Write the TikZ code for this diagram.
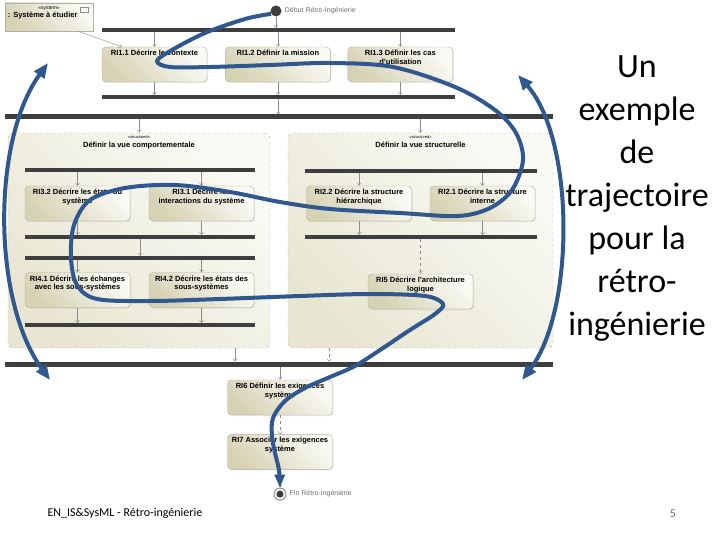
\documentclass[tikz,border=0pt]{standalone}
\usepackage{fontspec}
\setmainfont{Liberation Sans}
\newfontfamily\slidefont{Carlito}
\usetikzlibrary{arrows.meta,positioning,shadows}
\definecolor{boxLine}{RGB}{178,176,158}
\definecolor{boxDark}{RGB}{214,210,180}
\definecolor{boxLight}{RGB}{250,250,244}
\definecolor{zoneDark}{RGB}{232,230,210}
\definecolor{zoneLight}{RGB}{250,250,245}
\definecolor{barGrey}{RGB}{62,62,62}
\definecolor{tickGrey}{RGB}{140,140,140}
\definecolor{trajBlue}{RGB}{48,88,142}
\definecolor{labelGrey}{RGB}{110,110,110}
\newcommand{\boxtext}[1]{\parbox[c][29pt][t]{99pt}{\centering #1}}
\newcommand{\zonetext}[2]{\parbox[c][209pt][t]{#1}{\centering{\fontsize{4}{5}\selectfont\mdseries «structured»}\\ #2}}
\tikzset{
  boite/.style={draw=boxLine, rounded corners=4pt, top color=boxLight, bottom color=boxDark, shading angle=-45, inner sep=3pt, font=\fontsize{7.5}{8.6}\selectfont\bfseries, drop shadow={opacity=0.18, shadow xshift=1pt, shadow yshift=-1pt}},
  zone/.style={draw=boxLine, dashed, rounded corners=5pt, top color=zoneLight, bottom color=zoneDark, shading angle=-45, inner sep=3pt, font=\fontsize{7.5}{8.6}\selectfont\bfseries},
  barre/.style={fill=barGrey, inner sep=0pt, outer sep=0pt, minimum height=4pt},
  grandebarre/.style={barre, minimum height=5pt},
  petite/.style={-{Straight Barb[length=2.5pt,width=4pt]}, draw=tickGrey, line width=0.4pt},
  trajet/.style={draw=trajBlue, line width=4pt},
  pointe/.style={-{Triangle[length=13pt,width=10pt]}},
  doublepointe/.style={{Triangle[length=15pt,width=12pt]}-{Triangle[length=15pt,width=12pt]}},
  etiquette/.style={font=\fontsize{7}{8}\selectfont, text=labelGrey, inner sep=1pt}
}

\begin{document}
\begin{tikzpicture}[x=1pt, y=-1pt]
\useasboundingbox (0,0) rectangle (720,540);
% system under study
\node[boite, rounded corners=0pt] (systeme) at (49,17) {\parbox[c][22pt][t]{82pt}{{\centering\fontsize{5}{6}\selectfont\mdseries «system»\par}: Système à étudier}};
\draw[draw=tickGrey, fill=boxLight] ([xshift=-13pt,yshift=-4pt]systeme.north east) rectangle ++(8,5);
% start
\node[circle, fill=barGrey, minimum size=11pt, inner sep=0pt] (debut) at (276,11) {};
\node[etiquette, right=2pt of debut] (debutlbl) {Début Rétro-Ingénierie};
% first level
\node[barre, minimum width=353pt] (b1) at (278.5,30) {};
\node[boite] (ri11) at (154.5,64.5) {\boxtext{RI1.1 Décrire le contexte}};
\node[boite, right=18pt of ri11] (ri12) {\boxtext{RI1.2 Définir la mission}};
\node[boite, right=17pt of ri12] (ri13) {\boxtext{RI1.3 Définir les cas\\d'utilisation}};
\node[barre, minimum width=353pt] (b2) at (278.5,97) {};
\node[grandebarre, minimum width=548pt] (b3) at (279,117) {};
% behavioural view
\node[zone] (zoneL) at (139,240.5) {\zonetext{256pt}{Définir la vue comportementale}};
\node[barre, minimum width=230pt] (fL1) at (140,170) {};
\node[boite] (ri32) at (77.5,203.5) {\boxtext{RI3.2 Décrire les états du\\système}};
\node[boite] (ri31) at (201.5,203.5) {\boxtext{RI3.1 Décrire les\\interactions du système}};
\node[barre, minimum width=230pt] (jL1) at (140,237) {};
\node[barre, minimum width=230pt] (fL2) at (140,258) {};
\node[boite] (ri41) at (77.5,290) {\boxtext{RI4.1 Décrire les échanges\\avec les sous-systèmes}};
\node[boite] (ri42) at (201.5,290) {\boxtext{RI4.2 Décrire les états des\\sous-systèmes}};
\node[barre, minimum width=230pt] (jL2) at (140,325) {};
% structural view
\node[zone] (zoneR) at (420.5,240.5) {\zonetext{259pt}{Définir la vue structurelle}};
\node[barre, minimum width=232pt] (fR) at (421,171) {};
\node[boite] (ri22) at (359,203.5) {\boxtext{RI2.2 Décrire la structure\\hiérarchique}};
\node[boite] (ri21) at (482.5,203.5) {\boxtext{RI2.1 Décrire la structure\\interne}};
\node[barre, minimum width=232pt] (jR) at (421,237) {};
\node[boite] (ri5) at (420.5,291.5) {\boxtext{RI5 Décrire l'architecture\\logique}};
% requirements
\node[grandebarre, minimum width=548pt] (b4) at (279,364) {};
\node[boite] (ri6) at (280,397.5) {\boxtext{RI6 Définir les exigences\\système}};
\node[boite, below=19pt of ri6] (ri7) {\boxtext{RI7 Associer les exigences\\système}};
\node[circle, draw=tickGrey, fill=white, line width=1pt, minimum size=12pt, inner sep=0pt, below=18pt of ri7, path picture={\fill[barGrey] (path picture bounding box.center) circle (3.6pt);}] (fin) {};
\node[etiquette, right=2pt of fin] (finlbl) {Fin Rétro-Ingénierie};

\draw[petite] ([xshift=-15pt]systeme.south east) -- ([xshift=20pt]ri11.north west);
\draw[petite] (debut) -- (debut |- b1.north);
\draw[petite] (ri11 |- b1.south) -- (ri11.north);
\draw[petite] (ri12 |- b1.south) -- (ri12.north);
\draw[petite] (ri13 |- b1.south) -- (ri13.north);
\draw[petite] (ri11.south) -- (ri11 |- b2.north);
\draw[petite] (ri12.south) -- (ri12 |- b2.north);
\draw[petite] (ri13.south) -- (ri13 |- b2.north);
\draw[petite] (ri12 |- b2.south) -- (ri12 |- b3.north);
\draw[petite] (zoneL.north |- b3.south) -- (zoneL.north);
\draw[petite] (zoneR.north |- b3.south) -- (zoneR.north);
\draw[petite] (ri32 |- fL1.south) -- (ri32.north);
\draw[petite] (ri31 |- fL1.south) -- (ri31.north);
\draw[petite] (ri32.south) -- (ri32 |- jL1.north);
\draw[petite] (ri31.south) -- (ri31 |- jL1.north);
\draw[petite] (jL1.south) -- (fL2.north);
\draw[petite] (ri41 |- fL2.south) -- (ri41.north);
\draw[petite] (ri42 |- fL2.south) -- (ri42.north);
\draw[petite] (ri41.south) -- (ri41 |- jL2.north);
\draw[petite] (ri42.south) -- (ri42 |- jL2.north);
\draw[petite] (ri22 |- fR.south) -- (ri22.north);
\draw[petite] (ri21 |- fR.south) -- (ri21.north);
\draw[petite] (ri22.south) -- (ri22 |- jR.north);
\draw[petite] (ri21.south) -- (ri21 |- jR.north);
\draw[petite, dashed] (ri5 |- jR.south) -- (ri5.north);
\draw[petite] ([xshift=96pt]zoneL.south) -- ([xshift=96pt]zoneL.south |- b4.north);
\draw[petite, dashed] ([xshift=-91.5pt]zoneR.south) -- ([xshift=-91.5pt]zoneR.south |- b4.north);
\draw[petite] (ri6 |- b4.south) -- (ri6.north);
\draw[petite, dashed] (ri6.south) -- (ri7.north);
\draw[petite] (ri7.south) -- (fin.north);

% trajectory
\coordinate (gh) at (48,63);
\coordinate (gb) at (50,380);
\coordinate (dh) at (518,75);
\coordinate (db) at (522,380);
\draw[trajet, doublepointe] (gh) .. controls (-8,140) and (-8,300) .. (gb);
\draw[trajet, doublepointe] (dh) .. controls (575,140) and (575,310) .. (db);
\draw[trajet, pointe] plot[smooth, tension=0.55] coordinates {(debut.210) (245,19) (205,33) (172,50) (157,61) (170,67) (210,67) (270,65) (330,63) (393,67) (455,87) (495,110) (516,133) (523,160) (512,190) (490,208) (458,216) (400,213) (330,209) (280,202) (230,192) (175,185) (125,188) (90,200) (74,225) (71,258) (77,285) (97,299) (150,301) (220,299) (300,296) (370,294) (425,296) (443,304) (435,314) (410,330) (380,350) (355,366) (330,377) (305,388) (285,401) (273,418) (272,436) (275,453) (279,470) (fin.north)};

% slide text
\node[font=\slidefont\fontsize{34}{43}\selectfont, align=center] (titre) at (637,199) {Un\\exemple\\de\\trajectoire\\pour la\\rétro-\\ingénierie};
\node[font=\slidefont\fontsize{12}{14}\selectfont, anchor=west] (pied) at (44,513) {EN\_IS\&SysML - Rétro-ingénierie};
\node[font=\slidefont\fontsize{12}{14}\selectfont, text=labelGrey] (numero) at (673,514) {5};
\end{tikzpicture}
\end{document}
